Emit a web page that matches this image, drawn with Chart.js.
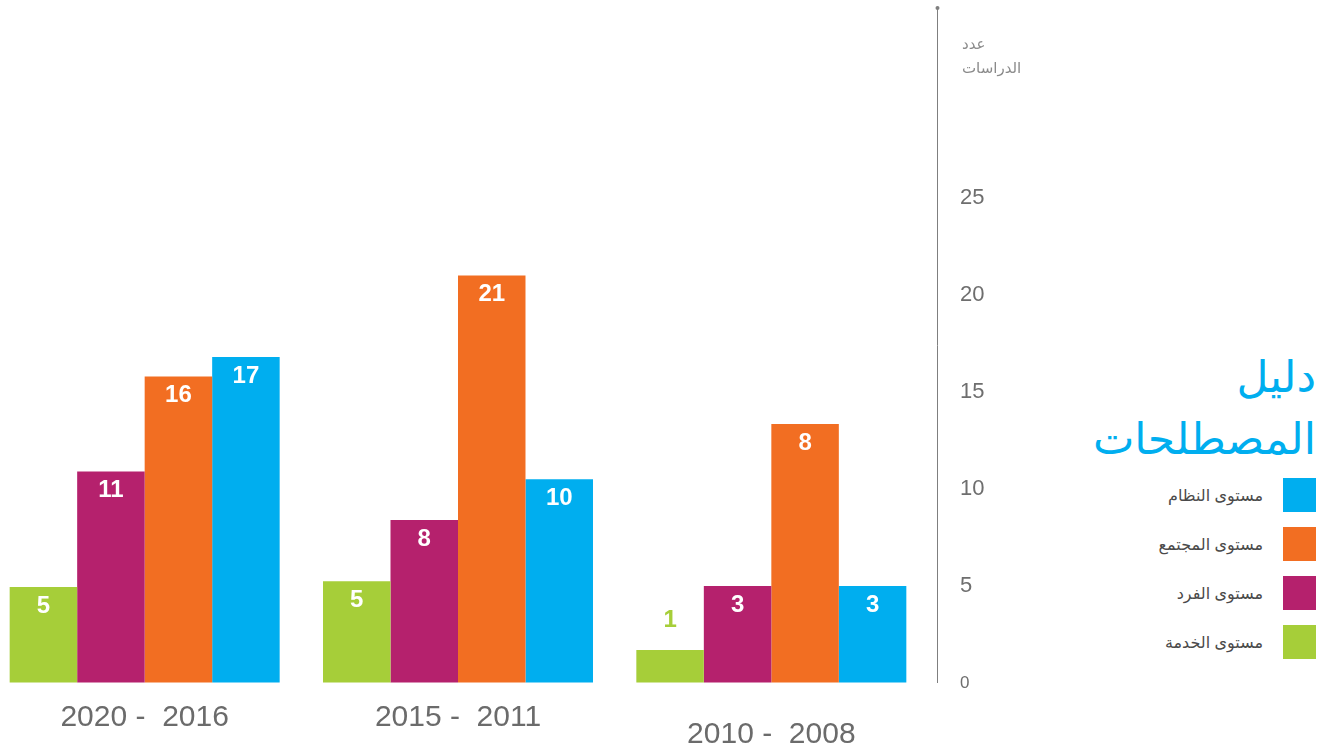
<!DOCTYPE html>
<html lang="ar">
<head>
<meta charset="utf-8">
<title>عدد الدراسات</title>
<script src="https://cdn.jsdelivr.net/npm/chart.js@4.4.1/dist/chart.umd.min.js"></script>
<style>
    html, body { margin: 0; padding: 0; background: #fff; overflow: hidden; }
    body { width: 1332px; height: 753px; position: relative; font-family: "Liberation Sans", Arial, "DejaVu Sans", sans-serif; }
    #chartBox { position: absolute; left: -12px; top: 0; width: 1010px; height: 753px; }
    .axis-title { position: absolute; left: 962px; font-size: 15px; color: #8a8a8a; direction: rtl; white-space: nowrap; line-height: 1; }
    #legend { position: absolute; right: 16px; top: 346px; direction: rtl; }
    .legend-title { color: #00aeef; font-size: 44px; line-height: 62px; text-align: right; }
    .legend-item { display: flex; align-items: center; height: 34px; margin-top: 15px; }
    .legend-item.first { margin-top: 8px; }
    .legend-swatch { width: 33px; height: 34px; margin-left: 20px; }
    .legend-text { font-size: 16px; color: #4a4a4a; white-space: nowrap; }
</style>
</head>
<body>
<div id="chartBox"><canvas id="studiesChart" width="1010" height="753"></canvas></div>
<div class="axis-title" style="top: 36px;">عدد</div>
<div class="axis-title" style="top: 60px;">الدراسات</div>
<div id="legend"></div>

<script>
// Periods (left to right, as in the picture)
const periods = ['2020 -  2016', '2015 -  2011', '2010 -  2008'];

// Series, in the order the bars stand inside each group
const seriesNames = ['مستوى الخدمة', 'مستوى الفرد', 'مستوى المجتمع', 'مستوى النظام'];
const seriesColors = ['#a6ce39', '#b5216d', '#f26e22', '#00aeef'];

// Numbers printed on the bars
const serviceCounts = [5, 5, 1];
const individualCounts = [11, 8, 3];
const communityCounts = [16, 21, 8];
const systemCounts = [17, 10, 3];

// Bar heights as drawn against the axis
const serviceBars = [4.95, 5.25, 1.7];
const individualBars = [10.9, 8.4, 5.0];
const communityBars = [15.8, 21.0, 13.35];
const systemBars = [16.8, 10.5, 5.0];

// Axis ticks shown
const yTicks = [0, 5, 10, 15, 20, 25];

const barSets = [serviceBars, individualBars, communityBars, systemBars];
const countSets = [serviceCounts, individualCounts, communityCounts, systemCounts];

// Value labels on the bars
const barLabels = {
    id: 'barLabels',
    afterDatasetsDraw(chart) {
        const ctx = chart.ctx;
        ctx.save();
        ctx.textAlign = 'center';
        ctx.textBaseline = 'middle';
        ctx.font = 'bold 24px "Liberation Sans", Arial, sans-serif';
        chart.data.datasets.forEach((ds, i) => {
            chart.getDatasetMeta(i).data.forEach((bar, j) => {
                const text = String(countSets[i][j]);
                const h = bar.base - bar.y;
                if (h > 45) {
                    ctx.fillStyle = '#ffffff';
                    ctx.fillText(text, bar.x, bar.y + 19);
                } else {
                    ctx.fillStyle = ds.backgroundColor;
                    ctx.fillText(text, bar.x, bar.y - 30);
                }
            });
        });
        ctx.restore();
    }
};

// Vertical axis line with its small end mark
const axisLine = {
    id: 'axisLine',
    afterDraw(chart) {
        const ctx = chart.ctx;
        const x = chart.chartArea.right + 9.5;
        ctx.save();
        ctx.strokeStyle = '#7f7f7f';
        ctx.lineWidth = 1;
        ctx.beginPath();
        ctx.moveTo(x, 8);
        ctx.lineTo(x, chart.chartArea.bottom);
        ctx.stroke();
        ctx.fillStyle = '#7f7f7f';
        ctx.beginPath();
        ctx.arc(x, 8, 2, 0, Math.PI * 2);
        ctx.fill();
        ctx.restore();
    }
};

function initChart() {
    const ctx = document.getElementById('studiesChart').getContext('2d');
    new Chart(ctx, {
        type: 'bar',
        data: {
            labels: periods,
            datasets: seriesNames.map((name, i) => ({
                label: name,
                data: barSets[i],
                backgroundColor: seriesColors[i],
                borderWidth: 0
            }))
        },
        options: {
            responsive: false,
            animation: false,
            devicePixelRatio: 1,
            layout: { padding: { top: 4, left: 0, right: 0, bottom: 0 } },
            datasets: {
                bar: { categoryPercentage: 0.8617, barPercentage: 1 }
            },
            plugins: {
                legend: { display: false },
                tooltip: { enabled: false }
            },
            scales: {
                x: {
                    grid: { display: false, drawTicks: false },
                    border: { display: false },
                    afterFit: (scale) => { scale.height = 70; },
                    ticks: {
                        autoSkip: false,
                        maxRotation: 0,
                        padding: 17,
                        color: '#6b6b6b',
                        font: (c) => ({
                            family: '"Liberation Sans", Arial, sans-serif',
                            size: 30,
                            lineHeight: c.index === 2 ? 2.3 : 1.2
                        })
                    }
                },
                y: {
                    position: 'right',
                    min: 0,
                    max: 35,
                    // transparent tick marks push the labels away from the axis
                    grid: { display: true, drawOnChartArea: false, drawTicks: true, tickLength: 32, color: 'transparent' },
                    border: { display: false },
                    afterFit: (scale) => { scale.width = 70; },
                    afterBuildTicks: (scale) => {
                        scale.ticks = yTicks.map(v => ({ value: v }));
                    },
                    ticks: {
                        padding: 0,
                        color: '#6e6e6e',
                        font: (c) => ({
                            family: '"Liberation Sans", Arial, sans-serif',
                            size: c.tick && c.tick.value === 0 ? 17 : 22,
                            lineHeight: 0.35
                        })
                    }
                }
            }
        },
        plugins: [barLabels, axisLine]
    });
}

// Legend, top to bottom as in the picture
function buildLegend() {
    const box = document.getElementById('legend');
    ['دليل', 'المصطلحات'].forEach(t => {
        const d = document.createElement('div');
        d.className = 'legend-title';
        d.textContent = t;
        box.appendChild(d);
    });
    for (let i = seriesNames.length - 1; i >= 0; i--) {
        const row = document.createElement('div');
        row.className = 'legend-item' + (i === seriesNames.length - 1 ? ' first' : '');
        const sw = document.createElement('div');
        sw.className = 'legend-swatch';
        sw.style.background = seriesColors[i];
        const tx = document.createElement('div');
        tx.className = 'legend-text';
        tx.textContent = seriesNames[i];
        row.appendChild(sw);
        row.appendChild(tx);
        box.appendChild(row);
    }
}

document.addEventListener('DOMContentLoaded', () => {
    initChart();
    buildLegend();
});
</script>
</body>
</html>
